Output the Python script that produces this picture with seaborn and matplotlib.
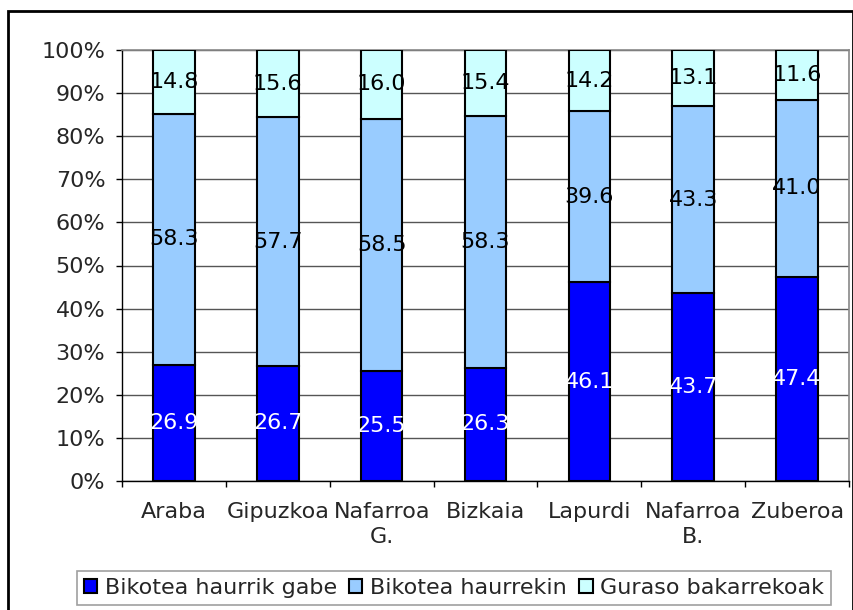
import pandas as pd
import seaborn as sns
import matplotlib.pyplot as plt
from matplotlib.patches import Rectangle
from matplotlib.ticker import FixedLocator, PercentFormatter

sns.set_style("white")
plt.rcParams['font.family'] = ['DejaVu Sans']

# data
regions = ["Araba", "Gipuzkoa", "Nafarroa\nG.", "Bizkaia", "Lapurdi", "Nafarroa\nB.", "Zuberoa"]
no_children = [26.9, 26.7, 25.5, 26.3, 46.1, 43.7, 47.4]
with_children = [58.3, 57.7, 58.5, 58.3, 39.6, 43.3, 41.0]
single_parent = [14.8, 15.6, 16.0, 15.4, 14.2, 13.1, 11.6]

series = ["Bikotea haurrik gabe", "Bikotea haurrekin", "Guraso bakarrekoak"]
colors = ["#0000FF", "#99CCFF", "#CCFFFF"]
text_colors = ["white", "black", "black"]

df = pd.DataFrame({"region": regions, series[0]: no_children,
                   series[1]: with_children, series[2]: single_parent})
totals = df[series].sum(axis=1)
shares = df[series].div(totals, axis=0) * 100

fig = plt.figure(figsize=(8.54, 6.10), dpi=100)
ax = fig.add_axes([122 / 854, 1 - 481 / 610, (849 - 122) / 854, (481 - 50) / 610])

fs = 16
bottom = pd.Series(0.0, index=df.index)
for s, c, tc in zip(series, colors, text_colors):
    plot_df = pd.DataFrame({"region": df["region"], "val": shares[s]})
    sns.barplot(data=plot_df, x="region", y="val", color=c, bottom=bottom.values,
                width=0.4, edgecolor="black", linewidth=1.5, saturation=1,
                label=s, ax=ax, zorder=3)
    for i in range(len(df)):
        ax.text(i, bottom[i] + shares[s][i] / 2, f"{df[s][i]:.1f}",
                ha="center", va="center", color=tc, fontsize=fs, zorder=4)
    bottom = bottom + shares[s]

handles, labels = ax.get_legend_handles_labels()
if ax.get_legend() is not None:
    ax.get_legend().remove()

ax.set_xlim(-0.5, len(regions) - 0.5)
ax.set_ylim(0, 100)
ax.set_yticks(range(0, 101, 10))
ax.yaxis.set_major_formatter(PercentFormatter(decimals=0))
ax.yaxis.grid(True, color="#555555", linewidth=1, zorder=0)
ax.set_xlabel("")
ax.set_ylabel("")
for lbl in ax.get_xticklabels():
    lbl.set_linespacing(1.35)

ax.xaxis.set_minor_locator(FixedLocator([i - 0.5 for i in range(len(regions) + 1)]))
ax.tick_params(axis="x", which="major", length=0, pad=15, labelsize=fs)
ax.tick_params(axis="x", which="minor", length=4.5, width=1, color="black", direction="out")
ax.tick_params(axis="y", length=4, width=1, color="black", direction="out", pad=8, labelsize=fs)
ax.tick_params(bottom=True, left=True, which="both")

for side in ["top", "right"]:
    ax.spines[side].set_color("#888888")
    ax.spines[side].set_linewidth(1.2)
for side in ["left", "bottom"]:
    ax.spines[side].set_color("black")
    ax.spines[side].set_linewidth(1)

leg = fig.legend(handles, labels, loc="center left", bbox_to_anchor=(77 / 854, 1 - 588 / 610),
                 ncol=3, fontsize=fs, frameon=True, fancybox=False, edgecolor="#888888",
                 handlelength=0.6, handleheight=0.6, handletextpad=0.35, columnspacing=0.55,
                 borderpad=0.3, borderaxespad=0)
leg.get_frame().set_linewidth(1.2)

fig.patches.append(Rectangle((8 / 854, -0.05), 0.99, 1 - 11 / 610 + 0.05,
                             transform=fig.transFigure, fill=False,
                             edgecolor="black", linewidth=2, zorder=0))

fig.savefig("out.png", dpi=100)
